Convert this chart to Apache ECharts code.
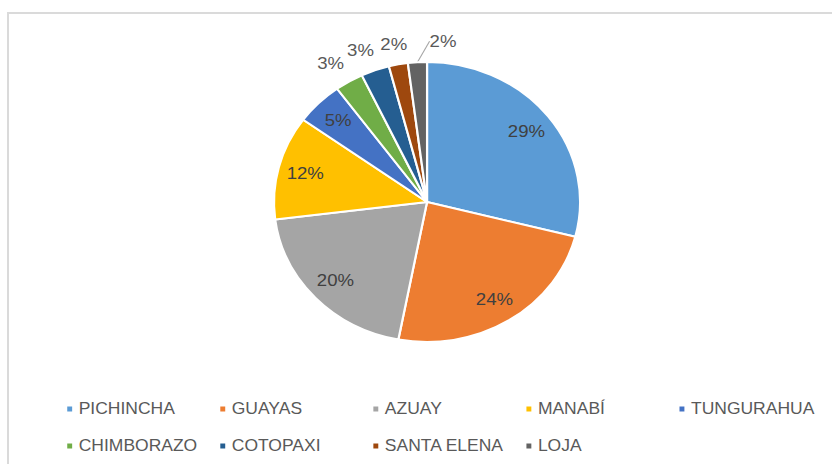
<!DOCTYPE html>
<html>
<head>
<meta charset="utf-8">
<script src="https://cdn.jsdelivr.net/npm/echarts@6/dist/echarts.min.js"></script>
<style>
  html, body { margin: 0; padding: 0; background: #fff; overflow: hidden; }
  #frame {
    position: absolute; left: 7px; top: 12px; width: 900px; height: 520px;
    border-left: 2px solid #dadada; border-top: 2px solid #dadada;
  }
  /* the source picture is a little wider than it is tall, so stretch the chart */
  #chart {
    position: absolute; left: 0; top: 0; width: 761px; height: 464px;
    transform: scaleX(1.0933); transform-origin: 0 0;
  }
</style>
</head>
<body>
<div id="frame"></div>
<div id="chart"></div>
<script>
const provinces = ['PICHINCHA', 'GUAYAS', 'AZUAY', 'MANABÍ', 'TUNGURAHUA', 'CHIMBORAZO', 'COTOPAXI', 'SANTA ELENA', 'LOJA'];
const shares = [29, 24, 20, 12, 5, 3, 3, 2, 2];
const palette = ['#5B9BD5', '#ED7D31', '#A5A5A5', '#FFC000', '#4472C4', '#70AD47', '#255E91', '#9E480E', '#636363'];

const font = "'Liberation Sans', Arial, sans-serif";
const center = [390.6, 202];

// big slices get their label inside, the small ones outside (like excel's best fit)
const isInside = (v) => v >= 5;

const mainData = provinces.map((name, i) => {
  const d = { name: name, value: shares[i] };
  if (isInside(shares[i])) d.label = { show: false };
  if (i === provinces.length - 1) d.labelLine = { show: true };
  return d;
});
const innerData = provinces.map((name, i) => {
  const d = { name: name, value: shares[i] };
  if (!isInside(shares[i])) d.label = { show: false };
  return d;
});

const chart = echarts.init(document.getElementById('chart'), null, { renderer: 'svg' });
chart.setOption({
  animation: false,
  backgroundColor: 'transparent',
  color: palette,
  legend: {
    data: provinces,
    left: 59.5,
    top: 395.5,
    width: 700,
    padding: 0,
    icon: 'rect',
    itemWidth: 6.5,
    itemHeight: 7,
    itemGap: 10,
    selectedMode: false,
    textStyle: {
      fontFamily: font,
      fontSize: 16,
      color: '#595959',
      width: 117.5,
      lineHeight: 27
    }
  },
  series: [
    {
      name: 'provincias',
      type: 'pie',
      center: center,
      radius: 140,
      startAngle: 90,
      clockwise: true,
      avoidLabelOverlap: false,
      silent: true,
      itemStyle: { borderColor: '#fff', borderWidth: 2 },
      label: {
        show: true,
        position: 'outside',
        formatter: '{c}%',
        fontFamily: font,
        fontSize: 17,
        color: '#595959',
        distanceToLabelLine: -6
      },
      labelLine: {
        show: false,
        length: 21,
        length2: 0,
        lineStyle: { color: '#a6a6a6', width: 1 }
      },
      // the last label sits to the right of its leader line,
      // the one before it is nudged a bit so the two do not touch
      labelLayout: function (p) {
        if (p.dataIndex === provinces.length - 1) {
          return { x: p.labelRect.x + p.labelRect.width + 31 };
        }
        if (p.dataIndex === provinces.length - 2) {
          return { dx: 6 };
        }
      },
      data: mainData
    },
    {
      name: 'etiquetas',
      type: 'pie',
      center: center,
      radius: [84, 140],
      startAngle: 90,
      clockwise: true,
      silent: true,
      itemStyle: { color: 'transparent', borderWidth: 0 },
      label: {
        show: true,
        position: 'inside',
        formatter: '{c}%',
        fontFamily: font,
        fontSize: 17,
        color: '#404040'
      },
      labelLine: { show: false },
      data: innerData
    }
  ]
});
</script>
</body>
</html>
